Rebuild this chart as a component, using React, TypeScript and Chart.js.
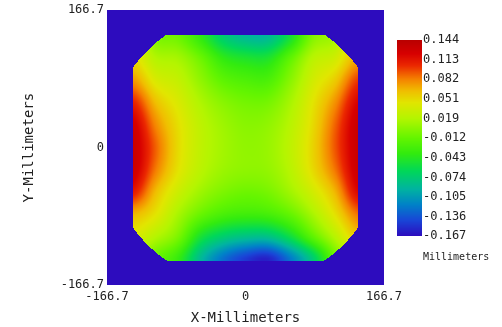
import { useEffect, useRef } from 'react';
import { Chart, registerables } from 'chart.js';

Chart.register(...registerables);

// ---- axes ----
const AXIS_MIN = -166.7;
const AXIS_MAX = 166.7;
const AXIS_TICKS = [-166.7, 0, 166.7];
const X_TITLE = 'X-Millimeters';
const Y_TITLE = 'Y-Millimeters';

// ---- sampled sag grid (mm), rows top (y=+135) to bottom (y=-135) ----
const GRID_X = [-135, -108, -81, -54, -27, 0, 27, 54, 81, 108, 135];
const GRID_Y = [135, 108, 81, 54, 27, 0, -27, -54, -81, -108, -135];
const ROW_P135 = [0.04, 0.0, -0.008, -0.037, -0.072, -0.088, -0.088, -0.052, 0.0, 0.015, 0.06];
const ROW_P108 = [0.05, 0.02, 0.014, -0.008, -0.037, -0.047, -0.047, -0.014, 0.022, 0.035, 0.07];
const ROW_P81 = [0.075, 0.04, 0.028, 0.006, -0.014, -0.022, -0.023, 0.003, 0.035, 0.058, 0.1];
const ROW_P54 = [0.107, 0.063, 0.04, 0.018, 0.003, -0.005, -0.004, 0.015, 0.045, 0.078, 0.122];
const ROW_P27 = [0.127, 0.08, 0.048, 0.025, 0.011, 0.003, 0.006, 0.022, 0.05, 0.09, 0.132];
const ROW_0 = [0.132, 0.09, 0.05, 0.026, 0.013, 0.006, 0.009, 0.025, 0.053, 0.093, 0.132];
const ROW_M27 = [0.13, 0.083, 0.046, 0.023, 0.01, 0.005, 0.007, 0.022, 0.05, 0.085, 0.13];
const ROW_M54 = [0.11, 0.063, 0.032, 0.011, -0.002, -0.008, -0.004, 0.012, 0.035, 0.066, 0.118];
const ROW_M81 = [0.065, 0.045, 0.015, -0.01, -0.025, -0.03, -0.027, -0.012, 0.015, 0.047, 0.085];
const ROW_M108 = [0.04, 0.02, -0.003, -0.05, -0.072, -0.082, -0.082, -0.056, -0.015, 0.022, 0.058];
const ROW_M135 = [0.02, -0.01, -0.035, -0.088, -0.125, -0.148, -0.158, -0.122, -0.075, -0.01, 0.03];
const SAG_ROWS = [ROW_P135, ROW_P108, ROW_P81, ROW_P54, ROW_P27, ROW_0, ROW_M27, ROW_M54, ROW_M81, ROW_M108, ROW_M135];

// ---- aperture (mm) ----
const APERTURE_HALF_X = 135.5;
const APERTURE_HALF_Y = 137;
const APERTURE_RADIUS = 166.7;

// ---- color bar ----
const CB_MIN = -0.167;
const CB_MAX = 0.144;
const CB_LABELS = ['0.144', '0.113', '0.082', '0.051', '0.019', '-0.012', '-0.043', '-0.074', '-0.105', '-0.136', '-0.167'];
const CB_UNIT = 'Millimeters';

// colormap stops: [t, r, g, b]
const CMAP: number[][] = [
  [0.0, 45, 12, 190],
  [0.08, 25, 70, 215],
  [0.16, 0, 130, 200],
  [0.24, 0, 180, 160],
  [0.33, 0, 215, 90],
  [0.42, 50, 235, 15],
  [0.5, 100, 245, 0],
  [0.6, 180, 245, 0],
  [0.68, 225, 230, 0],
  [0.74, 240, 190, 0],
  [0.8, 245, 130, 0],
  [0.87, 235, 40, 0],
  [0.93, 215, 0, 0],
  [1.0, 185, 0, 0],
];

const FONT = '"DejaVu Sans Mono", monospace';
const TEXT = '#222';

function colorAt(v: number): [number, number, number] {
  let t = (v - CB_MIN) / (CB_MAX - CB_MIN);
  t = Math.max(0, Math.min(1, t));
  for (let i = 1; i < CMAP.length; i++) {
    if (t <= CMAP[i][0]) {
      const a = CMAP[i - 1];
      const b = CMAP[i];
      const f = (t - a[0]) / (b[0] - a[0]);
      return [a[1] + (b[1] - a[1]) * f, a[2] + (b[2] - a[2]) * f, a[3] + (b[3] - a[3]) * f];
    }
  }
  const l = CMAP[CMAP.length - 1];
  return [l[1], l[2], l[3]];
}

// Catmull-Rom weights for smooth shading between the sampled grid nodes
function cr(p0: number, p1: number, p2: number, p3: number, t: number) {
  return 0.5 * (2 * p1 + (-p0 + p2) * t + (2 * p0 - 5 * p1 + 4 * p2 - p3) * t * t + (-p0 + 3 * p1 - 3 * p2 + p3) * t * t * t);
}

function sample(x: number, y: number): number {
  const nx = GRID_X.length;
  const ny = GRID_Y.length;
  let fx = (x - GRID_X[0]) / (GRID_X[1] - GRID_X[0]);
  let fy = (y - GRID_Y[0]) / (GRID_Y[1] - GRID_Y[0]);
  fx = Math.max(0, Math.min(nx - 1, fx));
  fy = Math.max(0, Math.min(ny - 1, fy));
  const i1 = Math.min(nx - 2, Math.floor(fx));
  const j1 = Math.min(ny - 2, Math.floor(fy));
  const u = fx - i1;
  const w = fy - j1;
  const ci = (i: number) => Math.max(0, Math.min(nx - 1, i));
  const cj = (j: number) => Math.max(0, Math.min(ny - 1, j));
  const rows: number[] = [];
  for (let dj = -1; dj <= 2; dj++) {
    const r = SAG_ROWS[cj(j1 + dj)];
    rows.push(cr(r[ci(i1 - 1)], r[ci(i1)], r[ci(i1 + 1)], r[ci(i1 + 2)], u));
  }
  return cr(rows[0], rows[1], rows[2], rows[3], w);
}

const heatmapPlugin = {
  id: 'heatmap',
  beforeDatasetsDraw(chart: any) {
    const { ctx, chartArea, scales } = chart;
    const xs = scales.x;
    const ys = scales.y;
    const left = Math.round(chartArea.left);
    const top = Math.round(chartArea.top);
    const w = Math.round(chartArea.right) - left;
    const h = Math.round(chartArea.bottom) - top;
    const off = document.createElement('canvas');
    off.width = w;
    off.height = h;
    const octx = off.getContext('2d')!;
    const img = octx.createImageData(w, h);
    const bg = colorAt(CB_MIN);
    for (let py = 0; py < h; py++) {
      const yv = ys.getValueForPixel(top + py + 0.5);
      for (let px = 0; px < w; px++) {
        const xv = xs.getValueForPixel(left + px + 0.5);
        const inside =
          Math.abs(xv) <= APERTURE_HALF_X &&
          Math.abs(yv) <= APERTURE_HALF_Y &&
          xv * xv + yv * yv <= APERTURE_RADIUS * APERTURE_RADIUS;
        const c = inside ? colorAt(sample(xv, yv)) : bg;
        const k = (py * w + px) * 4;
        img.data[k] = c[0];
        img.data[k + 1] = c[1];
        img.data[k + 2] = c[2];
        img.data[k + 3] = 255;
      }
    }
    octx.putImageData(img, 0, 0);
    ctx.save();
    ctx.drawImage(off, left, top);
    ctx.restore();
  },
  afterDraw(chart: any) {
    const ctx = chart.ctx;
    const cbLeft = 397;
    const cbRight = 422;
    const cbTop = 40;
    const cbBottom = 236;
    ctx.save();
    for (let y = cbTop; y < cbBottom; y++) {
      const v = CB_MIN + ((cbBottom - (y + 0.5)) / (cbBottom - cbTop)) * (CB_MAX - CB_MIN);
      const c = colorAt(v);
      ctx.fillStyle = `rgb(${c[0] | 0},${c[1] | 0},${c[2] | 0})`;
      ctx.fillRect(cbLeft, y, cbRight - cbLeft, 1);
    }
    ctx.fillStyle = TEXT;
    ctx.font = `12px ${FONT}`;
    ctx.textAlign = 'left';
    ctx.textBaseline = 'middle';
    CB_LABELS.forEach((lab) => {
      const v = parseFloat(lab);
      const y = cbBottom - ((v - CB_MIN) / (CB_MAX - CB_MIN)) * (cbBottom - cbTop);
      ctx.fillText(lab, cbRight + 1, y);
    });
    ctx.font = `10px ${FONT}`;
    ctx.fillText(CB_UNIT, cbRight + 1, 257);
    ctx.restore();
  },
};

const fmt = (v: number) => (v === 0 ? '0' : v.toFixed(1));

export default function App() {
  const ref = useRef<HTMLCanvasElement>(null);
  useEffect(() => {
    if (!ref.current) return;
    const chart = new Chart(ref.current, {
      type: 'scatter',
      data: { datasets: [{ data: [] as any[] }] },
      options: {
        animation: false,
        responsive: false,
        devicePixelRatio: 1,
        layout: { padding: { top: 9, right: 118, left: 0, bottom: 0 } },
        plugins: { legend: { display: false }, tooltip: { enabled: false } },
        scales: {
          x: {
            type: 'linear',
            min: AXIS_MIN,
            max: AXIS_MAX,
            grid: { display: false, drawTicks: false },
            border: { display: false },
            afterBuildTicks: (s: any) => {
              s.ticks = AXIS_TICKS.map((v) => ({ value: v }));
            },
            afterFit: (s: any) => {
              s.height = 42;
            },
            ticks: {
              autoSkip: false,
              maxRotation: 0,
              padding: 5,
              color: TEXT,
              font: { family: FONT, size: 12 },
              callback: (v: any) => fmt(Number(v)),
            },
            title: {
              display: true,
              text: X_TITLE,
              color: TEXT,
              font: { family: FONT, size: 14 },
              padding: { top: 1.6, bottom: 0 },
            },
          },
          y: {
            type: 'linear',
            min: AXIS_MIN,
            max: AXIS_MAX,
            grid: { display: false, drawTicks: false },
            border: { display: false },
            afterBuildTicks: (s: any) => {
              s.ticks = AXIS_TICKS.map((v) => ({ value: v }));
            },
            afterFit: (s: any) => {
              s.width = 107;
            },
            ticks: {
              autoSkip: false,
              padding: 3,
              color: TEXT,
              font: { family: FONT, size: 12 },
              callback: (v: any) => fmt(Number(v)),
            },
            title: {
              display: true,
              text: Y_TITLE,
              color: TEXT,
              font: { family: FONT, size: 14 },
              padding: { top: 21, bottom: 0 },
            },
          },
        },
      },
      plugins: [heatmapPlugin],
    });
    return () => chart.destroy();
  }, []);
  return (
    <div style={{ position: 'fixed', left: 0, top: 0, width: 502, height: 327, background: '#fff' }}>
      <canvas ref={ref} width={502} height={327} style={{ display: 'block' }} />
    </div>
  );
}
